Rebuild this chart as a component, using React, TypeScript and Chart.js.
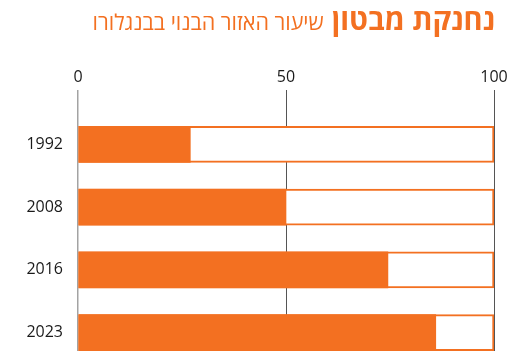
import React, { useEffect, useRef } from 'react';
import { Chart, registerables } from 'chart.js';

Chart.register(...registerables);

const years = ['1992', '2008', '2016', '2023'];
const builtUp = [27, 50, 74.5, 86];
const fullScale = [100, 100, 100, 100];
const xTickValues = [0, 50, 100];
const titleBold = 'נחנקת מבטון';
const titleLight = 'שיעור האזור הבנוי בבנגלורו';

const ORANGE = '#F37021';
const FONT = '"Open Sans", "Liberation Sans", "DejaVu Sans", sans-serif';

export default function App() {
  const canvasRef = useRef<HTMLCanvasElement | null>(null);

  useEffect(() => {
    if (!canvasRef.current) return;
    const chart = new Chart(canvasRef.current, {
      type: 'bar',
      data: {
        labels: years,
        datasets: [
          {
            label: 'built',
            data: builtUp,
            backgroundColor: ORANGE,
            borderWidth: 0,
            barThickness: 36,
            grouped: false,
            order: 0,
          } as any,
          {
            label: 'total',
            data: fullScale,
            backgroundColor: '#ffffff',
            borderColor: ORANGE,
            borderWidth: 2,
            borderSkipped: false,
            barThickness: 36,
            grouped: false,
            order: 1,
          } as any,
        ],
      },
      options: {
        indexAxis: 'y',
        animation: false,
        responsive: true,
        maintainAspectRatio: false,
        layout: { padding: { top: 69, right: 14, bottom: 0, left: 0 } },
        plugins: {
          legend: { display: false },
          tooltip: { enabled: false },
          title: { display: false },
        },
        scales: {
          x: {
            type: 'linear',
            position: 'top',
            min: 0,
            max: 100,
            z: 1,
            afterBuildTicks: (scale: any) => {
              scale.ticks = xTickValues.map((v) => ({ value: v }));
            },
            afterFit: (scale: any) => {
              scale.height = 44;
              scale.paddingLeft = 0;
              scale.paddingRight = 0;
            },
            border: { display: false },
            grid: {
              drawOnChartArea: true,
              drawTicks: true,
              tickLength: 23,
              color: (ctx: any) => (ctx.tick && ctx.tick.value === 0 ? '#a3a3a3' : '#555555'),
              lineWidth: (ctx: any) => (ctx.tick && ctx.tick.value === 0 ? 1.5 : 1),
              tickColor: (ctx: any) => (ctx.tick && ctx.tick.value === 0 ? '#a3a3a3' : '#555555'),
              tickWidth: (ctx: any) => (ctx.tick && ctx.tick.value === 0 ? 1.5 : 1),
            },
            ticks: {
              padding: 3,
              color: '#1a1a1a',
              font: { family: FONT, size: 16 },
              maxRotation: 0,
            },
          },
          y: {
            type: 'category',
            afterFit: (scale: any) => {
              scale.width = 78;
              scale.paddingTop = 0;
              scale.paddingBottom = 0;
            },
            border: { display: false },
            grid: { display: false, drawTicks: false },
            ticks: {
              padding: 15,
              color: '#1a1a1a',
              font: { family: FONT, size: 16 },
            },
          },
        },
      },
    });
    return () => chart.destroy();
  }, []);

  return (
    <div
      style={{
        position: 'absolute',
        left: 0,
        top: 0,
        width: 508,
        height: 351,
        overflow: 'hidden',
        background: '#ffffff',
      }}
    >
      <div style={{ position: 'absolute', left: 0, top: 0, width: 508, height: 364 }}>
        <canvas ref={canvasRef} />
      </div>
      <div
        dir="rtl"
        style={{
          position: 'absolute',
          top: -1,
          right: 13,
          color: ORANGE,
          whiteSpace: 'nowrap',
          fontFamily: FONT,
          lineHeight: '40px',
        }}
      >
        <span style={{ fontWeight: 700, fontSize: 29 }}>{titleBold}</span>
        <span style={{ display: 'inline-block', width: 8 }} />
        <span style={{ fontWeight: 400, fontSize: 21.5 }}>{titleLight}</span>
      </div>
    </div>
  );
}
